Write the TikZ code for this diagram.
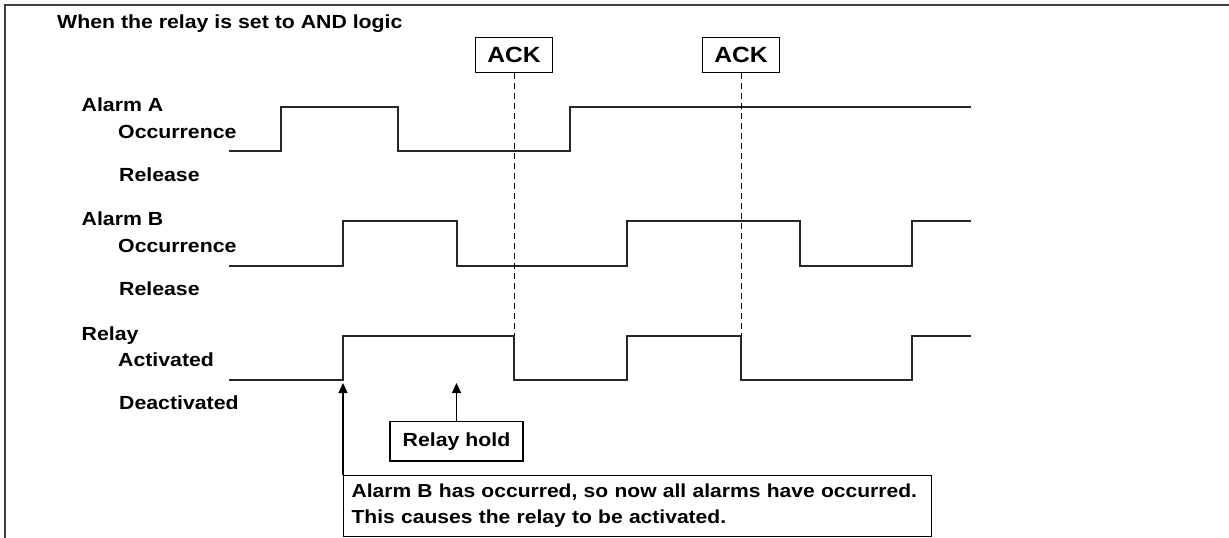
\documentclass[tikz,border=0pt]{standalone}
\usepackage{fontspec}
\setmainfont{Liberation Sans}[FakeStretch=1.12]
\usetikzlibrary{arrows.meta}
\begin{document}
\begin{tikzpicture}[x=1pt,y=-1pt,
  lab/.style={anchor=base west, inner sep=0pt, font=\fontsize{19}{22}\selectfont\bfseries},
  wave/.style={line width=1.5pt, line join=miter, black!85},
  ackbox/.style={draw, line width=1.1pt, minimum width=77.6pt, minimum height=35.4pt, inner sep=0pt, font=\fontsize{22}{24}\selectfont\bfseries},
  dashline/.style={line width=1pt, dash pattern=on 6pt off 4pt},
  callout/.style={draw, line width=1.1pt, inner sep=0pt, font=\fontsize{19}{26}\selectfont\bfseries},
  pointer/.style={line width=1.1pt, -{Triangle[length=10pt,width=9pt]}}
]
\useasboundingbox (0,0) rectangle (1229,538);
% frame
\draw[line width=2pt, black!75] (5,538) -- (5,4.5) -- (1229,4.5);
% title
\node[lab] (title) at (57,28) {When the relay is set to AND logic};
% labels
\node[lab] (la)  at (81.5,111) {Alarm A};
\node[lab] (lao) at (118,138) {Occurrence};
\node[lab] (lar) at (119,181) {Release};
\node[lab] (lb)  at (81.5,225) {Alarm B};
\node[lab] (lbo) at (118,252) {Occurrence};
\node[lab] (lbr) at (119,295) {Release};
\node[lab] (lr)  at (81.5,340) {Relay};
\node[lab] (lra) at (118,366) {Activated};
\node[lab] (lrd) at (119,409) {Deactivated};
% waveforms
\draw[wave] (229,151) -- (281,151) -- (281,107) -- (398,107) -- (398,151) -- (570,151) -- (570,107) -- (971,107);
\draw[wave] (229,266) -- (343,266) -- (343,221) -- (457,221) -- (457,266) -- (627,266) -- (627,221) -- (800,221) -- (800,266) -- (912,266) -- (912,221) -- (971,221);
\draw[wave] (229,380) -- (343,380) -- (343,336) -- (514,336) -- (514,380) -- (627,380) -- (627,336) -- (741,336) -- (741,380) -- (912,380) -- (912,336) -- (971,336);
% ACK boxes and dashed lines
\node[ackbox] (ack1) at (514,55) {ACK};
\node[ackbox] (ack2) at (741,55) {ACK};
\coordinate (d1) at (514,336);
\coordinate (d2) at (741,336);
\draw[dashline] (ack1.south) -- (d1);
\draw[dashline] (ack2.south) -- (d2);
% callouts
\node[callout, minimum width=133pt, minimum height=39.3pt] (hold) at (456.5,441.3) {Relay hold};
\node[callout, anchor=north west, minimum height=61pt, text width=572pt, inner xsep=8pt, align=left,
      font=\fontsize{18.8}{26}\selectfont\bfseries] (note) at (343,475)
  {\hyphenpenalty=10000\relax Alarm B has occurred, so now all alarms have occurred.\\This causes the relay to be activated.};
\coordinate (t1) at (343,383);
\coordinate (t2) at (456.5,383);
\draw[pointer] (note.north west) -- (t1);
\draw[pointer] (hold.north) -- (t2);
\end{tikzpicture}
\end{document}
